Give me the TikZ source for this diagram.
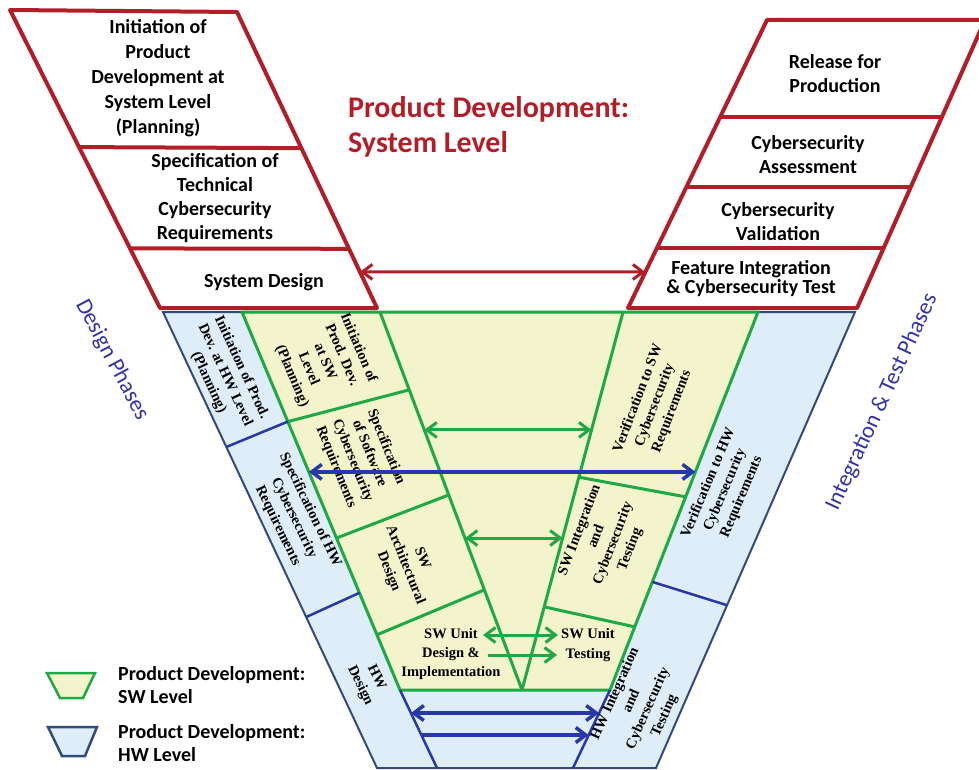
\documentclass[tikz,border=0pt]{standalone}
\usepackage{fontspec}
\usepackage{tikz}
\usetikzlibrary{calc, arrows.meta, positioning}
\newfontfamily\calib{Carlito}
\newfontfamily\serifb{Liberation Serif}
\definecolor{vred}{RGB}{178,30,40}
\definecolor{vgreen}{RGB}{30,168,70}
\definecolor{vblue}{RGB}{40,55,170}
\definecolor{vedge}{RGB}{50,75,125}
\definecolor{vphase}{RGB}{50,50,170}
\definecolor{swfill}{RGB}{243,244,204}
\definecolor{hwfill}{RGB}{222,237,248}

\begin{document}
\begin{tikzpicture}[x=1pt, y=-1pt,
    >={Straight Barb[length=10pt, width=15pt]},
    box/.style={font=\calib\bfseries\fontsize{20}{25}\selectfont, align=center, inner sep=0pt},
    lbl/.style={font=\serifb\bfseries\fontsize{14.5}{18}\selectfont, align=center, inner sep=0pt},
    phase/.style={font=\calib\fontsize{23}{28}\selectfont, text=vphase, inner sep=0pt},
    legend/.style={font=\calib\bfseries\fontsize{20}{23}\selectfont, align=left, inner sep=0pt, anchor=west},
    redline/.style={draw=vred, line width=4pt, line join=round},
    greenline/.style={draw=vgreen, line width=3pt, line join=round},
    blueline/.style={draw=vblue, line width=2.5pt},
    redarrow/.style={draw=vred, line width=3pt},
    greenarrow/.style={draw=vgreen, line width=3pt},
    bluearrow/.style={draw=vblue, line width=3.5pt}]
    \useasboundingbox (0,0) rectangle (979,770);

    \coordinate (ha) at (163,312);
    \coordinate (hb) at (855,312);
    \coordinate (hc) at (656,768);
    \coordinate (hd) at (377,768);
    \coordinate (sa) at (242,312);
    \coordinate (sb) at (758,312);
    \coordinate (sc) at (610,690);
    \coordinate (sd) at (400,690);
    \coordinate (va) at (380,312);
    \coordinate (vb) at (623,312);
    \coordinate (vc) at (522,690);
    \coordinate (hl) at (437,768);
    \coordinate (hr) at (573,768);
    \coordinate (pa) at (10,10);
    \coordinate (pb) at (237,12);
    \coordinate (pc) at (377,308);
    \coordinate (pd) at (160,308);
    \coordinate (qa) at (767,20);
    \coordinate (qb) at (985,20);
    \coordinate (qc) at (857,308);
    \coordinate (qd) at (628,308);

    \draw[fill=hwfill, draw=vedge, line width=2pt] (ha) -- (hb) -- (hc) -- (hd) -- cycle;
    \draw[greenline, fill=swfill] (sa) -- (sb) -- (sc) -- (sd) -- cycle;
    \draw[greenline] (va) -- (vc) -- (vb);
    \draw[blueline] (sd) -- (hl) (sc) -- (hr);

    \draw[greenline] ($(sa)!0.29!(sd)$) -- ($(va)!0.206!(vc)$);
    \draw[greenline] ($(sa)!0.598!(sd)$) -- ($(va)!0.484!(vc)$);
    \draw[greenline] ($(sa)!0.854!(sd)$) -- ($(va)!0.735!(vc)$);
    \draw[greenline] ($(vb)!0.437!(vc)$) -- ($(sb)!0.489!(sc)$);
    \draw[greenline] ($(vb)!0.78!(vc)$) -- ($(sb)!0.833!(sc)$);
    \draw[blueline] ($(ha)!0.296!(hd)$) -- ($(sa)!0.29!(sd)$);
    \draw[blueline] ($(ha)!0.669!(hd)$) -- ($(sa)!0.743!(sd)$);
    \draw[blueline] ($(sb)!0.714!(sc)$) -- ($(hb)!0.643!(hc)$);

    \draw[redline, fill=white] (pa) -- (pb) -- (pc) -- (pd) -- cycle;
    \draw[redline] ($(pa)!0.46!(pd)$) -- ($(pb)!0.46!(pc)$);
    \draw[redline] ($(pa)!0.80!(pd)$) -- ($(pb)!0.80!(pc)$);
    \draw[redline, fill=white] (qa) -- (qb) -- (qc) -- (qd) -- cycle;
    \draw[redline] ($(qa)!0.337!(qd)$) -- ($(qb)!0.337!(qc)$);
    \draw[redline] ($(qa)!0.58!(qd)$) -- ($(qb)!0.58!(qc)$);
    \draw[redline] ($(qa)!0.79!(qd)$) -- ($(qb)!0.79!(qc)$);

    \node[box] (init) at (158,78) {Initiation of\\Product\\Development at\\System Level\\(Planning)};
    \node[box, font=\calib\bfseries\fontsize{20}{24}\selectfont] (spec) at (215,198) {Specification of\\Technical\\Cybersecurity\\Requirements};
    \node[box] (sysd) at (264,282) {System Design};
    \node[box, font=\calib\bfseries\fontsize{20}{24}\selectfont] (rel) at (835,74) {Release for\\Production};
    \node[box, font=\calib\bfseries\fontsize{20}{24}\selectfont] (assess) at (808,155) {Cybersecurity\\Assessment};
    \node[box, font=\calib\bfseries\fontsize{20}{24}\selectfont] (valid) at (778,222) {Cybersecurity\\Validation};
    \node[box, font=\calib\bfseries\fontsize{20}{19}\selectfont] (feat) at (751,279) {Feature Integration\\\& Cybersecurity Test};
    \node[box, anchor=west, align=left, text=vred, font=\calib\bfseries\fontsize{30}{35}\selectfont] (ttl) at (348,127) {Product Development:\\System Level};

    \node[phase, rotate=-62] (dphase) at (112,360) {Design Phases};
    \node[phase, rotate=65] (tphase) at (882,402) {Integration \& Test Phases};

    \node[lbl, rotate=-65] (hwinit) at (225,375) {Initiation of Prod.\\Dev. at HW Level\\(Planning)};
    \node[lbl, rotate=-64] (hwspec) at (294,518) {Specification of HW\\Cybersecurity\\Requirements};
    \node[lbl, rotate=-64] (hwdes) at (368,682) {HW\\Design};
    \node[lbl, rotate=67] (hwver) at (725,490) {Verification to HW\\Cybersecurity\\Requirements};
    \node[lbl, rotate=66] (hwint) at (640,705) {HW Integration\\and\\Cybersecurity\\Testing};
    \node[lbl, rotate=-67] (swinit) at (325,362) {Initiation of\\Prod. Dev.\\at SW\\Level\\(Planning)};
    \node[lbl, rotate=-68] (swspec) at (361,457) {Specification\\of Software\\Cybersecurity\\Requirements};
    \node[lbl, rotate=-68] (swarch) at (405,565) {SW\\Architectural\\Design};
    \node[lbl, font=\serifb\bfseries\fontsize{14.5}{19}\selectfont] (swunit) at (451,654) {SW Unit\\Design \&\\Implementation};
    \node[lbl, rotate=69] (swver) at (655,405) {Verification to SW\\Cybersecurity\\Requirements};
    \node[lbl, rotate=69] (swint) at (605,540) {SW Integration\\and\\Cybersecurity\\Testing};
    \node[lbl, font=\serifb\bfseries\fontsize{14.5}{20}\selectfont] (swtest) at (588,645) {SW Unit\\Testing};

    \draw[fill=swfill, draw=vgreen, line width=2.5pt] (47,673) -- (95,673) -- (83,698) -- (60,698) -- cycle;
    \draw[fill=hwfill, draw=vedge, line width=2.5pt] (48,727) -- (97,727) -- (85,756) -- (62,756) -- cycle;
    \node[legend] (lgsw) at (118,685) {Product Development:\\SW Level};
    \node[legend] (lghw) at (118,743) {Product Development:\\HW Level};

    \coordinate (r1) at ($(pb)!0.878!(pc)$);
    \coordinate (r2) at ($(qa)!0.875!(qd)$);
    \coordinate (g1) at ($(va)!0.312!(vc)$);
    \coordinate (g2) at ($(vb)!0.312!(vc)$);
    \coordinate (g3) at ($(va)!0.598!(vc)$);
    \coordinate (g4) at ($(vb)!0.598!(vc)$);
    \coordinate (u1) at (483,635);
    \coordinate (u2) at (558,635);
    \coordinate (u3) at (488,655);
    \coordinate (u4) at (557,655);
    \coordinate (b1) at ($(sa)!0.423!(sd)$);
    \coordinate (b2) at ($(sb)!0.423!(sc)$);
    \coordinate (b3) at ($(sd)!0.295!(hl)$);
    \coordinate (b4) at ($(sc)!0.295!(hr)$);
    \coordinate (b5) at ($(sd)!0.577!(hl)$);
    \coordinate (b6) at ($(sc)!0.577!(hr)$);

    \draw[redarrow] (r1) edge[<->] (r2);
    \draw[greenarrow]
    (g1) edge[<->] (g2)
    (g3) edge[<->] (g4)
    (u1) edge[<->] (u2)
    (u3) edge[->] (u4);
    \draw[bluearrow]
    (b1) edge[<->] (b2)
    (b3) edge[<->] (b4)
    (b5) edge[->] (b6);
\end{tikzpicture}
\end{document}
